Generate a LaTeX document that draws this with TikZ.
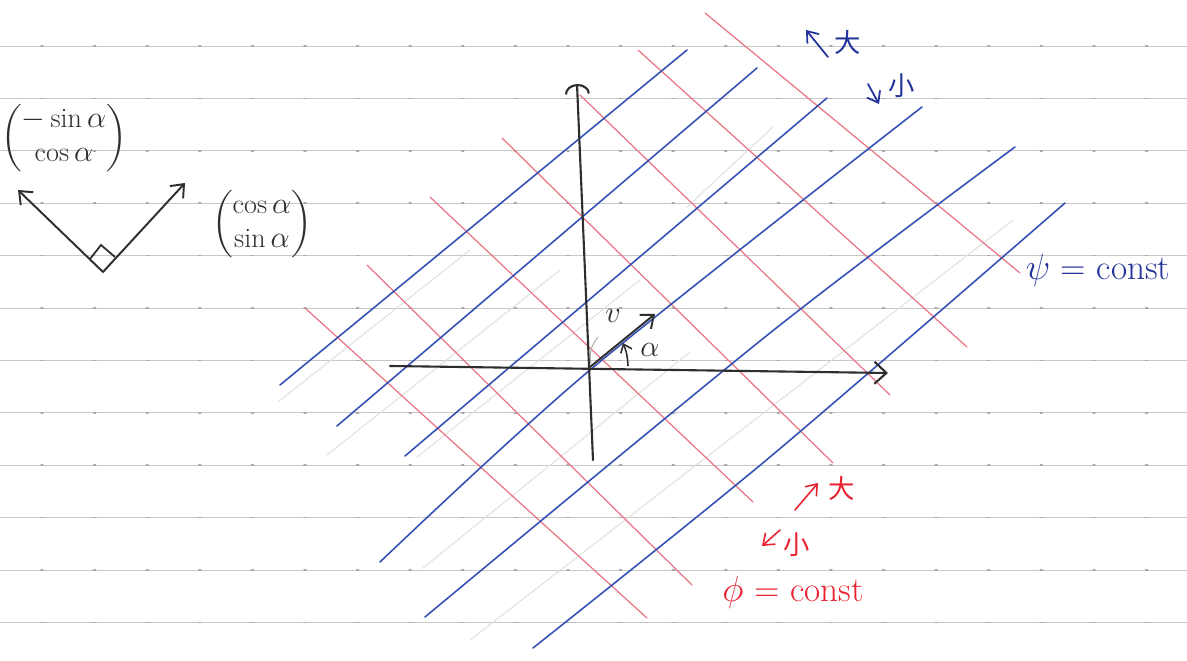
\documentclass[tikz,border=0pt]{standalone}
\usepackage{amsmath,amssymb}
\usepackage{fontspec}
\newfontfamily\jpfont{Noto Sans CJK JP}
\usepackage{tikz}
\usetikzlibrary{positioning,arrows.meta,calc}
\definecolor{ink}{HTML}{2E2E2E}
\definecolor{paper}{HTML}{FFFFFF}
\definecolor{ruling}{HTML}{C8C8C8}
\definecolor{pencil}{HTML}{E2E2DC}
\definecolor{psiblue}{HTML}{3551B5}
\definecolor{phired}{HTML}{EA7584}
\definecolor{psitext}{HTML}{23339A}
\definecolor{phitext}{HTML}{E82230}
\tikzset{
  rule/.style={draw=ruling, line width=0.5pt},
  tick/.style={draw=ruling!85!black, line width=1pt, line cap=round},
  psiline/.style={draw=psiblue, line width=0.9pt, line cap=round},
  philine/.style={draw=phired, line width=0.7pt, line cap=round},
  ghost/.style={draw=pencil, line width=0.6pt, line cap=round},
  axis/.style={draw=ink, line width=1.2pt, line cap=round, -{Arc Barb[length=2mm,width=5mm]}},
  xaxis/.style={axis, -{Straight Barb[length=2.4mm,width=4.4mm]}},
  vecar/.style={draw=ink, line width=1.1pt, line cap=round, -{Straight Barb[length=2.2mm,width=3.6mm]}},
  psiar/.style={draw=psitext, line width=1pt, line cap=round, -{Straight Barb[length=2mm,width=3mm]}},
  phiar/.style={draw=phitext, line width=0.9pt, line cap=round, -{Straight Barb[length=2mm,width=3mm]}},
  mat/.style={text=ink, font=\fontsize{16}{19}\selectfont, inner sep=0pt},
  sym/.style={text=ink, font=\fontsize{18}{21}\selectfont, inner sep=1pt},
  psilbl/.style={text=psitext, font=\fontsize{20}{24}\selectfont, inner sep=1pt},
  philbl/.style={text=phitext, font=\fontsize{20}{24}\selectfont, inner sep=1pt},
  kanji/.style={font=\fontsize{15}{18}\jpfont, inner sep=1pt},
}

\begin{document}
\begin{tikzpicture}[x=0.02cm, y=-0.02cm]
\fill[paper] (0,0) rectangle (1187,661);
\useasboundingbox (0,0) rectangle (1187,661);

% --- ruled paper ---
\foreach \k in {0,...,11} {
  \draw[rule] (0,{46+52.4*\k}) -- (1187,{46+52.4*\k});
  \foreach \i in {0,...,21}
    \draw[tick] ({41+52.6*\i},{46+52.4*\k}) -- ++(2,0);
}

% --- pencil drafts ---
\draw[ghost] (278,402) -- (470,250);
\draw[ghost] (327,455) -- (560,270);
\draw[ghost] (417,457) -- (640,280);
\draw[ghost] (423,568) -- (690,352);
\draw[ghost] (470,640) -- (1013,220);
\draw[ghost] (687,207) -- (773,127);

% --- phi = const ---
\foreach \ax/\ay/\bx/\by in {305/308/647/618, 367/265/692/585, 430/197/753/502,
    502/138/833/463, 580/95/890/395, 638/50/967/347, 705/13/1020/273}
  \draw[philine] (\ax,\ay) -- (\bx,\by);

% --- psi = const ---
\draw[psiline] (280,385) -- (687,50);
\draw[psiline] (337,426) -- (757,68);
\draw[psiline] (405,456) -- (827,98);
\draw[psiline] plot[smooth] coordinates {(380,562) (590,370) (922,107)};
\draw[psiline] plot[smooth] coordinates {(425,617) (770,333) (1015,147)};
\draw[psiline] plot[smooth] coordinates {(533,648) (770,457) (1065,203)};

% --- axes and v ---
\coordinate (O) at (590,367);
\coordinate (xs) at (390,366);
\coordinate (xe) at (888,373);
\coordinate (ys) at (593,460);
\coordinate (ye) at (577,84);
\coordinate (vtip) at (655,314);
\draw[xaxis] (xs) -- (xe);
\draw[axis] (ys) -- (ye);
\draw[vecar] (O) -- (vtip);
\node[sym] (vlbl) at (613,316) {$v$};
\coordinate (a0) at (628,366);
\coordinate (a1) at (623,343);
\draw[ink, line width=0.9pt, -{Straight Barb[length=1.5mm,width=2.4mm]}] (a0) to[bend right=10] (a1);
\node[sym] (alpha) at (650,350) {$\alpha$};
\draw[ghost, draw=pencil!80!black] (591,364) to[bend left=25] (598,337);

% --- unit vectors ---
\coordinate (base) at (103,272);
\coordinate (nend) at (18,190);
\coordinate (tend) at (185,183);
\draw[vecar] (base) -- (nend);
\draw[vecar] (base) -- (tend);
\draw[ink, line width=1pt] (90,259) -- (101,245) -- (115,257);
\node[mat] (nvec) at (64,138) {$\begin{pmatrix}-\sin\alpha\\ \cos\alpha\end{pmatrix}$};
\node[mat] (tvec) at (262,224) {$\begin{pmatrix}\cos\alpha\\ \sin\alpha\end{pmatrix}$};

% --- labels ---
\coordinate (pu0) at (828,57);
\coordinate (pu1) at (806,30);
\draw[psiar] (pu0) -- (pu1);
\node[kanji, text=psitext] (pbig) at (848,42) {大};
\coordinate (pd0) at (868,84);
\coordinate (pd1) at (879,104);
\draw[psiar] (pd0) -- (pd1);
\node[kanji, text=psitext] (psmall) at (902,86) {小};
\node[psilbl] (psieq) at (1098,270) {$\psi$ = const};

\coordinate (fu0) at (795,510);
\coordinate (fu1) at (818,483);
\draw[phiar] (fu0) -- (fu1);
\node[kanji, text=phitext] (fbig) at (842,488) {大};
\coordinate (fd0) at (780,530);
\coordinate (fd1) at (762,546);
\draw[phiar] (fd0) -- (fd1);
\node[kanji, text=phitext] (fsmall) at (797,545) {小};
\node[philbl] (phieq) at (793,592) {$\phi$ = const};
\end{tikzpicture}
\end{document}
